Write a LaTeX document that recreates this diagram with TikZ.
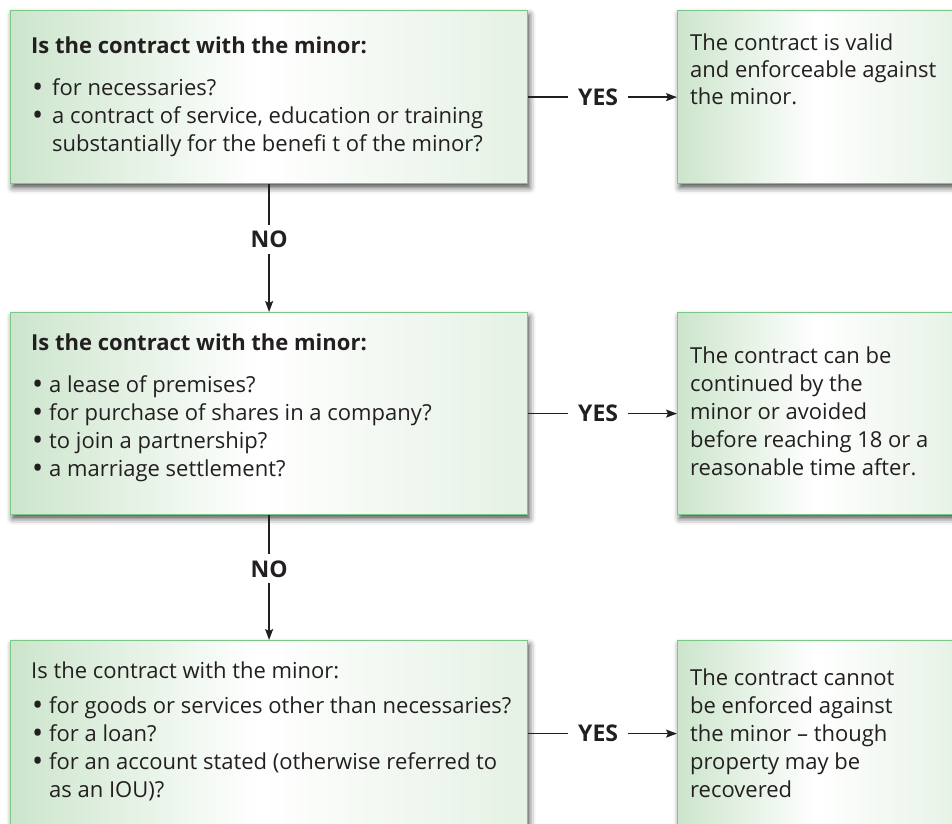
\documentclass[tikz,border=0pt]{standalone}
\usepackage{fontspec}
\setmainfont{Open Sans}
\usetikzlibrary{arrows.meta,shadows.blur,calc}

\definecolor{boxline}{RGB}{122,200,135}
\definecolor{shadeL}{RGB}{204,229,204}
\definecolor{shadeR}{RGB}{229,241,228}
\definecolor{ink}{RGB}{35,31,32}

% light green at both sides, fading to white a little left of the middle
\pgfdeclarehorizontalshading{qshade}{100bp}{color(0bp)=(shadeL); color(25bp)=(shadeL); color(49bp)=(white); color(75bp)=(shadeR); color(100bp)=(shadeR)}

\newcommand\dotmark{\raisebox{-0.1em}{\scalebox{1.35}{\textbullet}}}
\newcommand\itm{\makebox[20pt][l]{\dotmark}}
\newcommand\itmb{\makebox[17pt][l]{\dotmark}}

\tikzset{
  box/.style={rectangle, draw=boxline, line width=1.2pt, shading=qshade, inner sep=0pt, anchor=north west,
    blur shadow={shadow xshift=2pt, shadow yshift=-4pt, shadow blur radius=6pt, shadow opacity=70}},
  % multi-line texts are placed by the baseline of their last line
  txt/.style={font=\fontsize{22}{28}\selectfont, text=ink, inner sep=0pt, align=left, anchor=base west},
  conn/.style={line width=1.4pt, draw=ink, -{Stealth[length=11pt,width=8pt,inset=2pt]}},
  yes/.style={fill=white, font=\bfseries\fontsize{23}{24}\selectfont, text=ink, inner xsep=10pt, inner ysep=2pt},
  no/.style={fill=white, font=\bfseries\fontsize{23}{24}\selectfont, text=ink, inner xsep=2pt, inner ysep=6pt}
}

\begin{document}
\begin{tikzpicture}[x=1pt, y=-1pt]
\useasboundingbox (0,0) rectangle (952,823);
\clip (0,0) rectangle (952,823);

% question boxes
\node[box, minimum width=517pt, minimum height=173pt] (q1) at (10,10) {};
\node[box, minimum width=517pt, minimum height=202pt] (q2) at (10,312) {};
\node[box, minimum width=517pt, minimum height=186pt] (q3) at (10,640) {};

% outcome boxes
\node[box, minimum width=290pt, minimum height=173pt] (r1) at (677,10) {};
\node[box, minimum width=290pt, minimum height=202pt] (r2) at (677,312) {};
\node[box, minimum width=290pt, minimum height=186pt] (r3) at (677,640) {};

% question texts
\node[txt] (q1t) at ($(q1.north west)+(21,43)$) {\bfseries Is the contract with the minor:};
\node[txt] (q1l) at ($(q1.north west)+(22,141)$) {\itm for necessaries?\\
  \itm a contract of service, education or training\\
  \hspace*{20pt}substantially for the benefi t of the minor?};

\node[txt] (q2t) at ($(q2.north west)+(21,38)$) {\bfseries Is the contract with the minor:};
\node[txt] (q2l) at ($(q2.north west)+(22,164)$) {\itmb a lease of premises?\\
  \itmb for purchase of shares in a company?\\
  \itmb to join a partnership?\\
  \itmb a marriage settlement?};

\node[txt] (q3t) at ($(q3.north west)+(21,38)$) {Is the contract with the minor:};
\node[txt] (q3l) at ($(q3.north west)+(22,157)$) {\itmb for goods or services other than necessaries?\\
  \itmb for a loan?\\
  \itmb for an account stated (otherwise referred to\\
  \hspace*{17pt}as an IOU)?};

% outcome texts
\node[txt, font=\fontsize{22}{27}\selectfont] (r1t) at ($(r1.north west)+(13,94)$) {The contract is valid\\and enforceable against\\the minor.};
\node[txt] (r2t) at ($(r2.north west)+(13,163)$) {The contract can be\\continued by the\\minor or avoided\\before reaching 18 or a\\reasonable time after.};
\node[txt] (r3t) at ($(r3.north west)+(13,157)$) {The contract cannot\\be enforced against\\the minor -- though\\property may be\\recovered};

% connectors
\draw[conn] (q1) -- node[no, pos=0.43] {NO} (q2);
\draw[conn] (q2) -- node[no, pos=0.43] {NO} (q3);
\draw[conn] (q1) -- node[yes, pos=0.47] {YES} (r1);
\draw[conn] (q2) -- node[yes, pos=0.47] {YES} (r2);
\draw[conn] (q3) -- node[yes, pos=0.47] {YES} (r3);
\end{tikzpicture}
\end{document}
